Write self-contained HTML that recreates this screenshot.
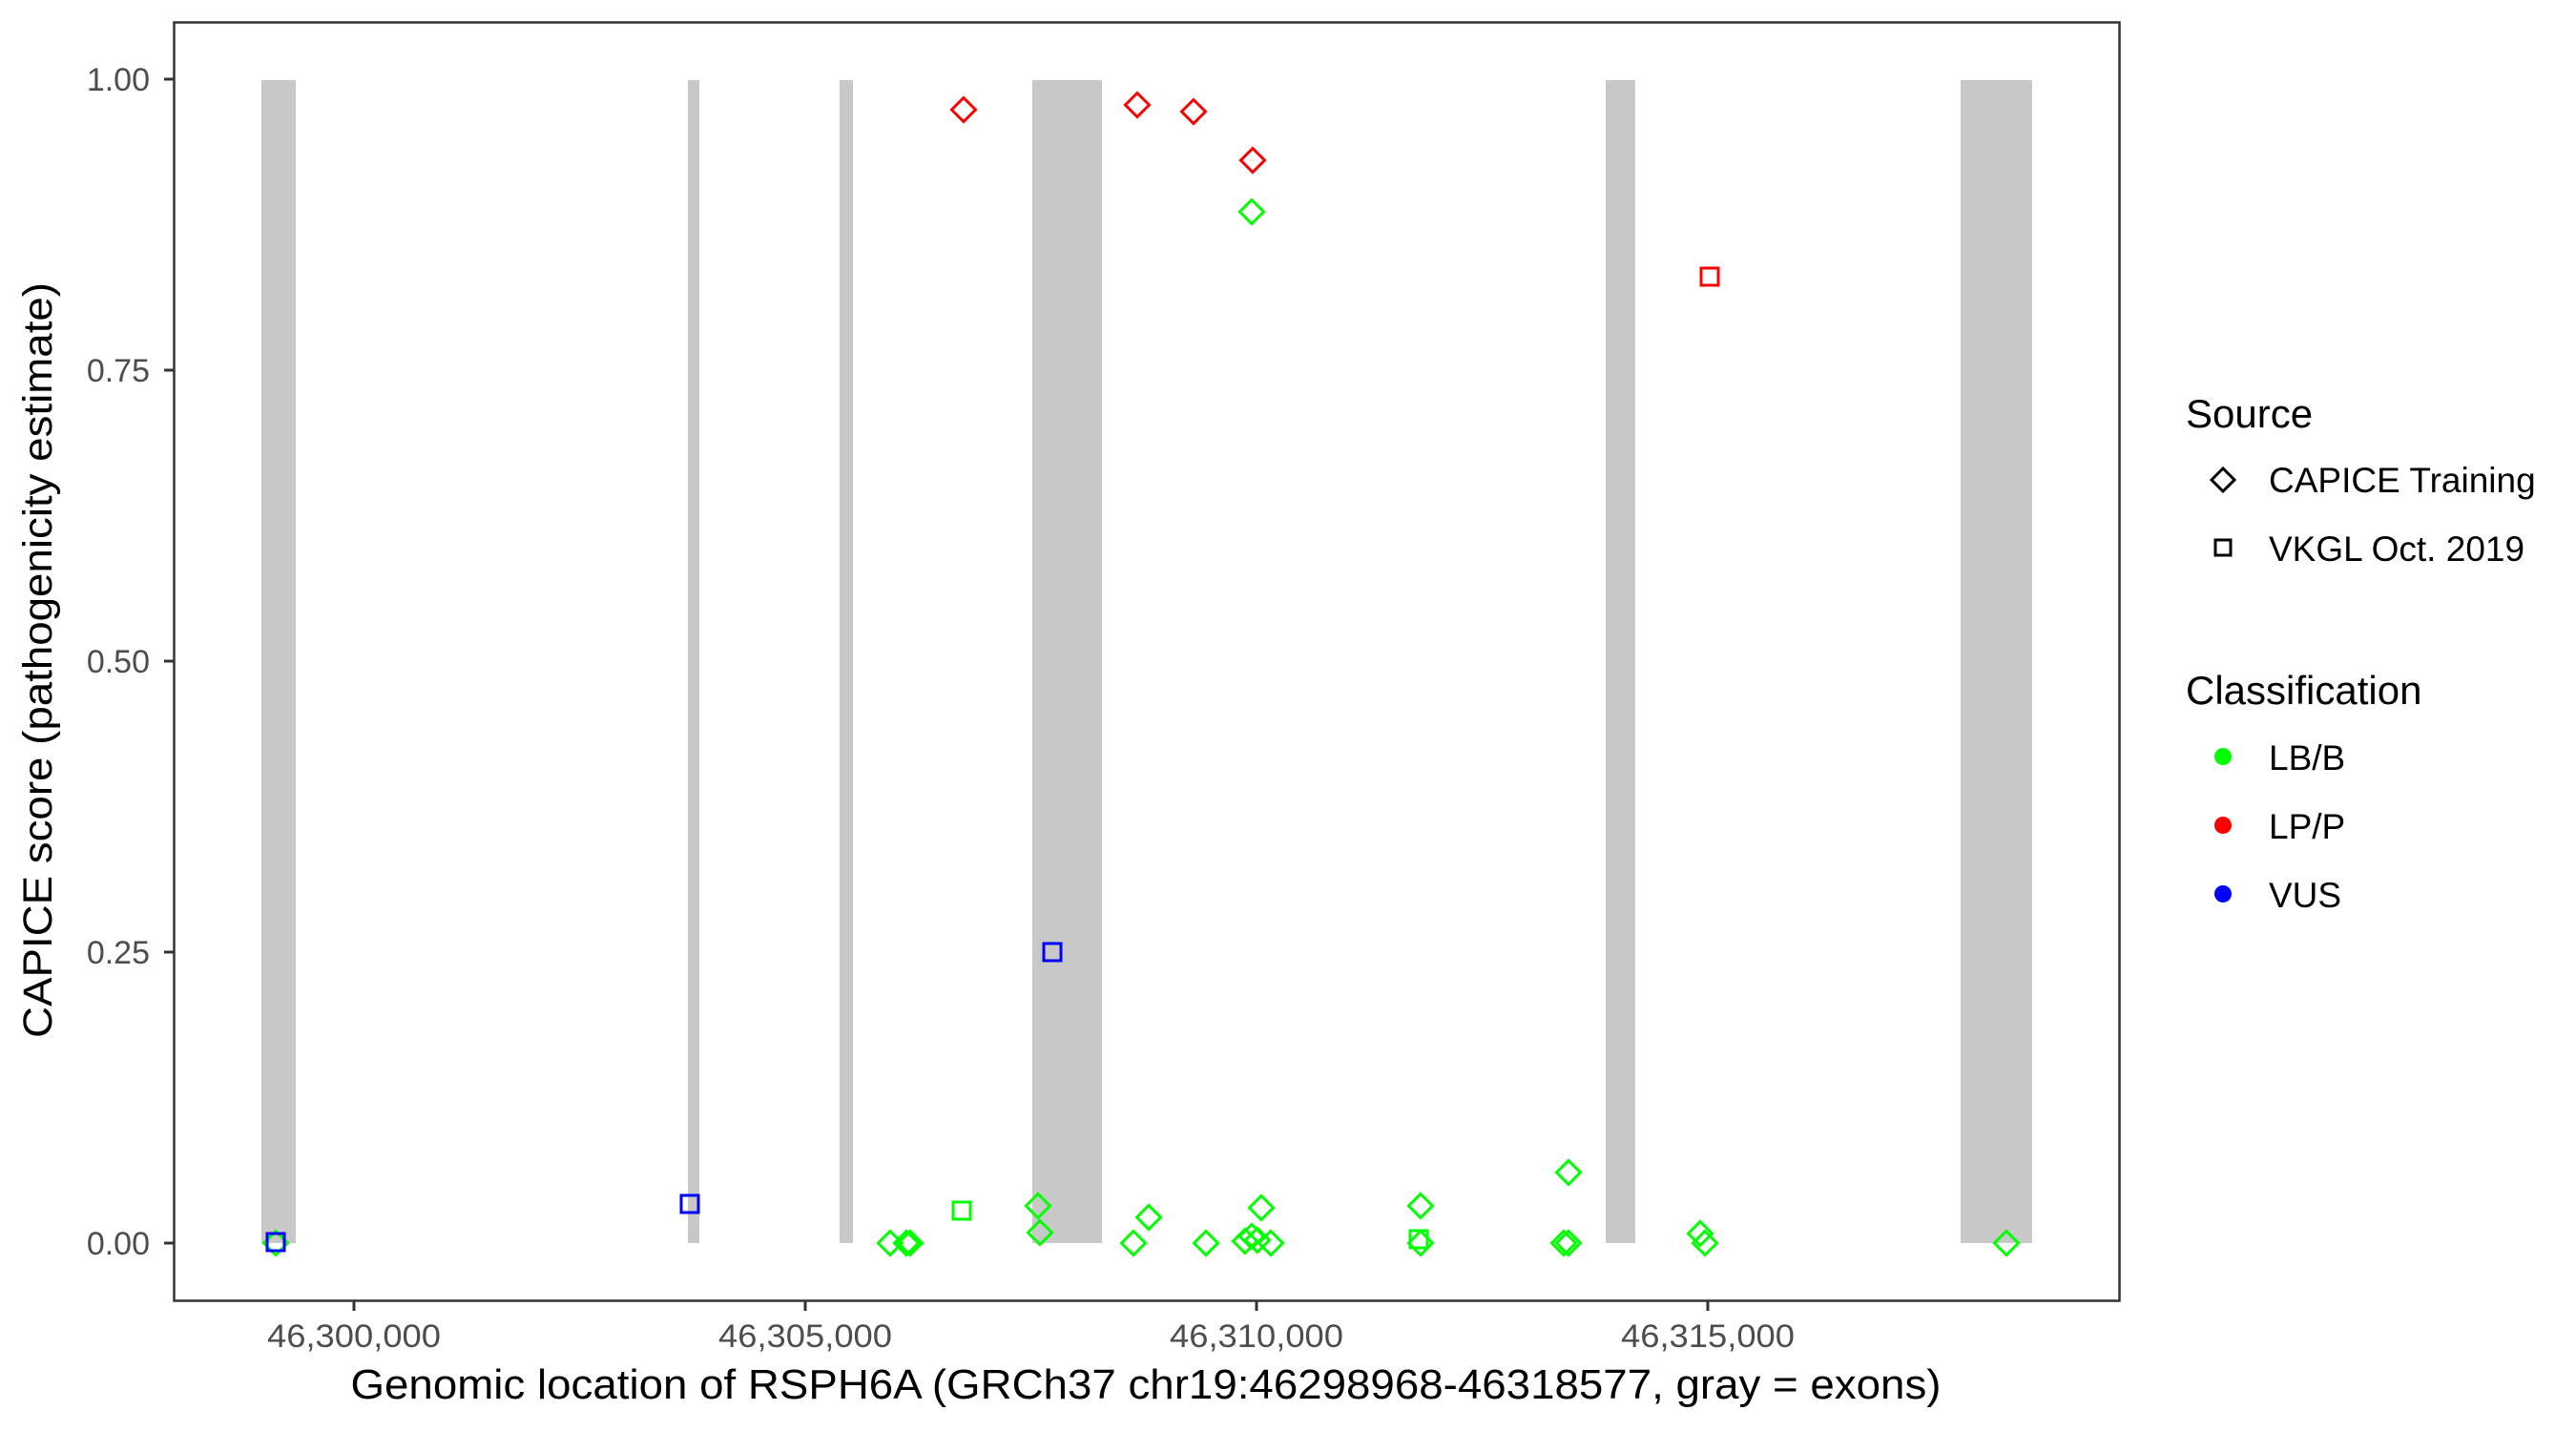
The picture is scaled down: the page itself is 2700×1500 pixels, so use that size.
<!DOCTYPE html>
<html><head><meta charset="utf-8"><style>html,body{margin:0;padding:0;background:#fff}svg{display:block}</style></head>
<body>
<svg width="2700" height="1500" viewBox="0 0 2700 1500" xmlns="http://www.w3.org/2000/svg" font-family="Liberation Sans, Arial, sans-serif">
<rect width="2700" height="1500" fill="#fff"/>
<g fill="#c8c8c8">
<rect x="274" y="84" width="36" height="1219"/>
<rect x="721" y="84" width="12" height="1219"/>
<rect x="880" y="84" width="14" height="1219"/>
<rect x="1082" y="84" width="73" height="1219"/>
<rect x="1683" y="84" width="31" height="1219"/>
<rect x="2055" y="84" width="75" height="1219"/>
</g>
<defs>
<path id="d" d="M0,-12.5 L12.5,0 L0,12.5 L-12.5,0 Z" fill="none" stroke-width="3"/>
<rect id="s" x="-9" y="-9" width="18" height="18" fill="none" stroke-width="3"/>
</defs>
<g stroke="#00ff00">
<use href="#d" x="289" y="1303"/>
<use href="#d" x="933" y="1303"/>
<use href="#d" x="950" y="1303"/>
<use href="#d" x="954" y="1303"/>
<use href="#s" x="1008" y="1269"/>
<use href="#d" x="1088" y="1264"/>
<use href="#d" x="1090" y="1292"/>
<use href="#d" x="1188" y="1303"/>
<use href="#d" x="1204" y="1276"/>
<use href="#d" x="1264" y="1303"/>
<use href="#d" x="1305" y="1301"/>
<use href="#d" x="1312" y="1296"/>
<use href="#d" x="1318" y="1300"/>
<use href="#d" x="1332" y="1303"/>
<use href="#d" x="1322" y="1266"/>
<use href="#d" x="1312" y="222"/>
<use href="#d" x="1489" y="1264"/>
<use href="#d" x="1489" y="1303"/>
<use href="#s" x="1487" y="1299"/>
<use href="#d" x="1644" y="1229"/>
<use href="#d" x="1639" y="1303"/>
<use href="#d" x="1644" y="1303"/>
<use href="#d" x="1782" y="1293"/>
<use href="#d" x="1787" y="1303"/>
<use href="#d" x="2103" y="1303"/>
</g>
<g stroke="#ff0000">
<use href="#d" x="1010" y="115"/>
<use href="#d" x="1192" y="110"/>
<use href="#d" x="1251" y="117"/>
<use href="#d" x="1313" y="168"/>
<use href="#s" x="1792" y="290"/>
</g>
<g stroke="#0000ff">
<use href="#s" x="289" y="1302"/>
<use href="#s" x="723" y="1262"/>
<use href="#s" x="1103" y="998"/>
</g>
<rect x="182.5" y="23.5" width="2039" height="1340" fill="none" stroke="#333" stroke-width="2.5"/>
<g stroke="#333" stroke-width="3">
<line x1="172" y1="83" x2="182" y2="83"/><line x1="172" y1="388" x2="182" y2="388"/><line x1="172" y1="693" x2="182" y2="693"/><line x1="172" y1="998" x2="182" y2="998"/><line x1="172" y1="1303" x2="182" y2="1303"/>
<line x1="371" y1="1364" x2="371" y2="1374"/><line x1="844" y1="1364" x2="844" y2="1374"/><line x1="1317" y1="1364" x2="1317" y2="1374"/><line x1="1790" y1="1364" x2="1790" y2="1374"/>
</g>
<g fill="#4d4d4d" font-size="34" text-anchor="end">
<text x="157" y="95">1.00</text><text x="157" y="400">0.75</text><text x="157" y="705">0.50</text><text x="157" y="1010">0.25</text><text x="157" y="1315">0.00</text>
</g>
<g fill="#4d4d4d" font-size="34" text-anchor="middle">
<text x="371" y="1412" textLength="182" lengthAdjust="spacingAndGlyphs">46,300,000</text><text x="844" y="1412" textLength="182" lengthAdjust="spacingAndGlyphs">46,305,000</text><text x="1317" y="1412" textLength="182" lengthAdjust="spacingAndGlyphs">46,310,000</text><text x="1790" y="1412" textLength="182" lengthAdjust="spacingAndGlyphs">46,315,000</text>
</g>
<text x="1201" y="1466" font-size="44" text-anchor="middle" textLength="1667" lengthAdjust="spacingAndGlyphs">Genomic location of RSPH6A (GRCh37 chr19:46298968-46318577, gray = exons)</text>
<text transform="translate(54,692) rotate(-90)" font-size="43" text-anchor="middle" textLength="792" lengthAdjust="spacingAndGlyphs">CAPICE score (pathogenicity estimate)</text>
<g font-size="42"><text x="2291" y="448">Source</text><text x="2291" y="738">Classification</text></g>
<g font-size="37">
<text x="2378" y="516">CAPICE Training</text>
<text x="2378" y="588">VKGL Oct. 2019</text>
<text x="2378" y="807">LB/B</text>
<text x="2378" y="879">LP/P</text>
<text x="2378" y="951">VUS</text>
</g>
<path d="M2318,503 L2330,491 L2342,503 L2330,515 Z" fill="none" stroke="#000" stroke-width="3"/>
<rect x="2322" y="566" width="16" height="16" fill="none" stroke="#000" stroke-width="3"/>
<circle cx="2330" cy="793" r="9" fill="#00ff00"/>
<circle cx="2330" cy="865" r="9" fill="#ff0000"/>
<circle cx="2330" cy="937" r="9" fill="#0000ff"/>
</svg>
</body></html>
